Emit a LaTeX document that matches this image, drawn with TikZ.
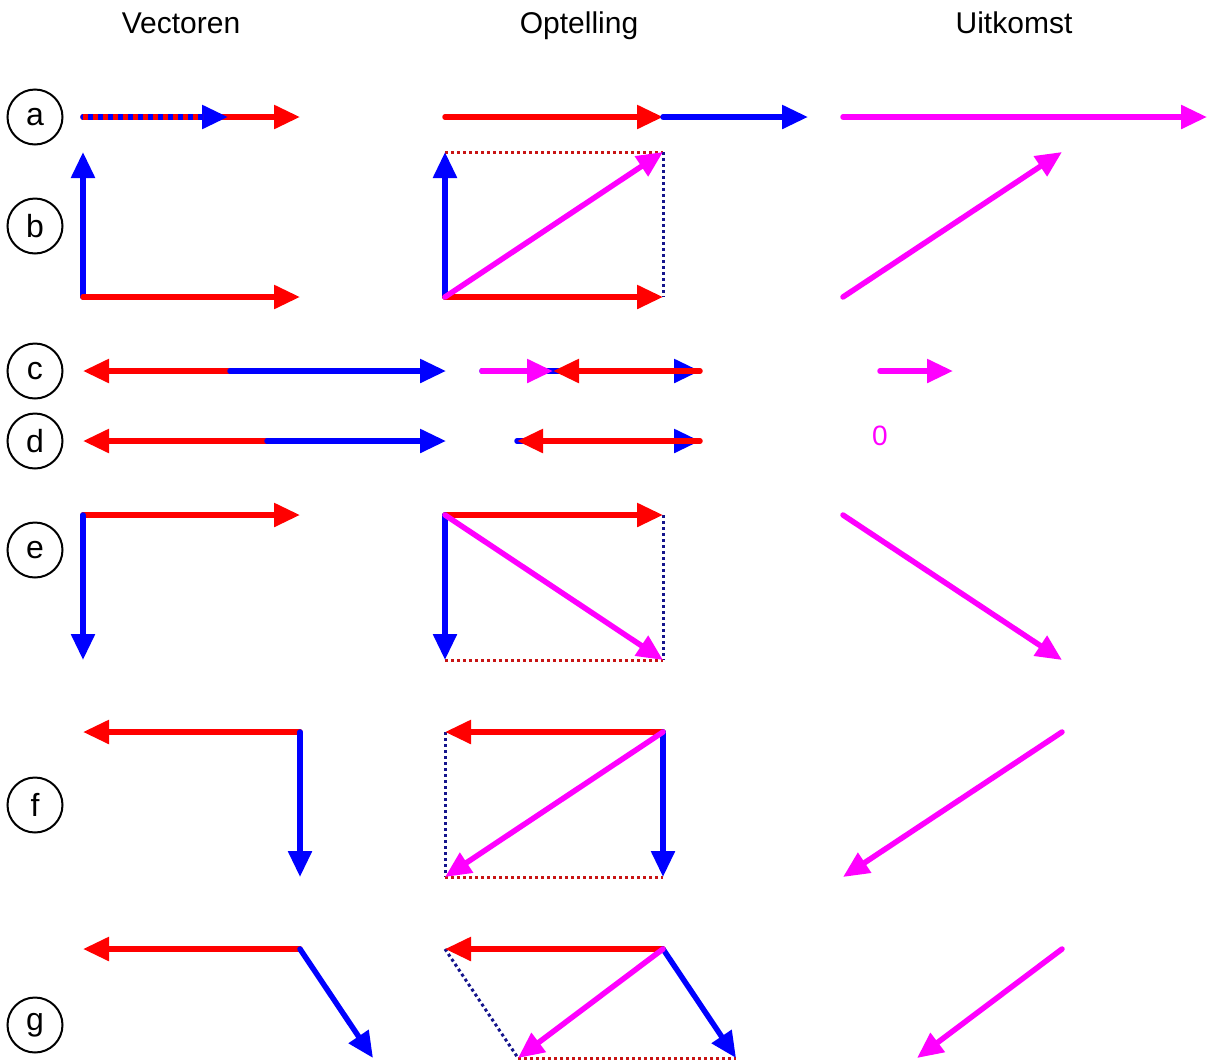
\documentclass[tikz,border=0pt]{standalone}
\usepackage{fontspec}
\setmainfont{Liberation Sans}
\usetikzlibrary{arrows.meta}
\definecolor{dotblue}{RGB}{20,20,140}
\definecolor{dotred}{RGB}{200,20,20}
\definecolor{vred}{RGB}{255,0,0}
\definecolor{vblue}{RGB}{0,0,255}
\definecolor{vmag}{RGB}{255,0,255}
\tikzset{
  vec/.style={line width=5.5pt, line cap=round, -{Triangle[length=26pt,width=23pt]}},
  rv/.style={vec, draw=vred},
  bv/.style={vec, draw=vblue},
  mv/.style={vec, draw=vmag},
  ov/.style={line width=5.5pt, line cap=butt, dash pattern=on 5pt off 5pt},
  guide/.style={line width=3pt, dash pattern=on 3pt off 3pt},
  lab/.style={draw, circle, line width=2pt, minimum size=55pt, inner sep=0pt, font=\fontsize{32}{36}\selectfont},
  head/.style={font=\fontsize{30}{36}\selectfont, anchor=base}
}
\begin{document}
\begin{tikzpicture}[x=1pt,y=-1pt]
\useasboundingbox (0,0) rectangle (1208,1061);
% headers
\node[head] (h1) at (181,33) {Vectoren};
\node[head] (h2) at (579,33) {Optelling};
\node[head] (h3) at (1014,33) {Uitkomst};
% row labels
\node[lab] (la) at (35,117) {a};
\node[lab] (lb) at (35,226) {b};
\node[lab] (lc) at (35,371) {c};
\node[lab] (ld) at (35,441) {d};
\node[lab] (le) at (35,550) {e};
\node[lab] (lf) at (35,805) {f};
\node[lab] (lg) at (35,1025) {g};

% ---------- row a ----------
\coordinate (a0) at (83,117); \coordinate (a1) at (228,117); \coordinate (a2) at (300,117);
\coordinate (a1b) at (203,117);
\draw[rv] (a0) -- (a2);
\draw[bv] (a0) -- (a1);
\draw[ov, vred] (a0) -- (a1b);
\coordinate (am0) at (445,117); \coordinate (am1) at (663,117); \coordinate (am2) at (808,117);
\draw[rv] (am0) -- (am1);
\draw[bv] (am1) -- (am2);
\coordinate (ar0) at (843,117); \coordinate (ar1) at (1207,117);
\draw[mv] (ar0) -- (ar1);

% ---------- row b ----------
\coordinate (b0) at (83,297); \coordinate (b1) at (83,152); \coordinate (b2) at (300,297);
\draw[bv] (b0) -- (b1);
\draw[rv] (b0) -- (b2);
\coordinate (bm0) at (445,297); \coordinate (bm1) at (445,152); \coordinate (bm2) at (663,297); \coordinate (bm3) at (663,152);
\draw[guide, dotred] (bm1) -- (bm3);
\draw[guide, dotblue] (bm3) -- (bm2);
\draw[bv] (bm0) -- (bm1);
\draw[rv] (bm0) -- (bm2);
\draw[mv] (bm0) -- (bm3);
\coordinate (br0) at (843,297); \coordinate (br1) at (1062,152);
\draw[mv] (br0) -- (br1);

% ---------- row c ----------
\coordinate (c0) at (230,371); \coordinate (c1) at (83,371); \coordinate (c2) at (446,371);
\draw[rv] (c0) -- (c1);
\draw[bv] (c0) -- (c2);
\coordinate (cm0) at (482,371); \coordinate (cm1) at (700,371); \coordinate (cm2) at (553,371);
\coordinate (cm3) at (527,371); \coordinate (cm4) at (579,371);
\draw[bv] (cm0) -- (cm1);
\draw[rv] (cm1) -- (cm2);
\draw[mv] (cm0) -- (cm2);
\draw[ov, vmag] (cm0) -- (cm3);
\draw[ov, vred] (cm4) -- (cm1);
\coordinate (cr0) at (880,371); \coordinate (cr1) at (953,371);
\draw[mv] (cr0) -- (cr1);

% ---------- row d ----------
\coordinate (d0) at (267,441); \coordinate (d1) at (83,441); \coordinate (d2) at (446,441);
\draw[rv] (d0) -- (d1);
\draw[bv] (d0) -- (d2);
\coordinate (dm0) at (517,441); \coordinate (dm1) at (700,441); \coordinate (dm2) at (543,441);
\draw[bv] (dm0) -- (dm1);
\draw[rv] (dm1) -- (dm0);
\draw[ov, vred] (dm2) -- (dm1);
\node[text=vmag, font=\fontsize{28}{32}\selectfont] (zero) at (880,436) {0};

% ---------- row e ----------
\coordinate (e0) at (83,515); \coordinate (e1) at (300,515); \coordinate (e2) at (83,660);
\draw[rv] (e0) -- (e1);
\draw[bv] (e0) -- (e2);
\coordinate (em0) at (445,515); \coordinate (em1) at (663,515); \coordinate (em2) at (445,660); \coordinate (em3) at (663,660);
\draw[guide, dotblue] (em1) -- (em3);
\draw[guide, dotred] (em2) -- (em3);
\draw[rv] (em0) -- (em1);
\draw[bv] (em0) -- (em2);
\draw[mv] (em0) -- (em3);
\coordinate (er0) at (843,515); \coordinate (er1) at (1062,660);
\draw[mv] (er0) -- (er1);

% ---------- row f ----------
\coordinate (f0) at (300,732); \coordinate (f1) at (83,732); \coordinate (f2) at (300,877);
\draw[rv] (f0) -- (f1);
\draw[bv] (f0) -- (f2);
\coordinate (fm0) at (663,732); \coordinate (fm1) at (445,732); \coordinate (fm2) at (663,877); \coordinate (fm3) at (445,877);
\draw[guide, dotblue] (fm1) -- (fm3);
\draw[guide, dotred] (fm3) -- (fm2);
\draw[rv] (fm0) -- (fm1);
\draw[bv] (fm0) -- (fm2);
\draw[mv] (fm0) -- (fm3);
\coordinate (fr0) at (1062,732); \coordinate (fr1) at (843,877);
\draw[mv] (fr0) -- (fr1);

% ---------- row g ----------
\coordinate (g0) at (300,949); \coordinate (g1) at (83,949); \coordinate (g2) at (373,1058);
\draw[rv] (g0) -- (g1);
\draw[bv] (g0) -- (g2);
\coordinate (gm0) at (663,949); \coordinate (gm1) at (445,949); \coordinate (gm2) at (736,1058); \coordinate (gm3) at (518,1058);
\draw[guide, dotblue] (gm1) -- (gm3);
\draw[guide, dotred] (gm3) -- (gm2);
\draw[rv] (gm0) -- (gm1);
\draw[bv] (gm0) -- (gm2);
\draw[mv] (gm0) -- (gm3);
\coordinate (gr0) at (1062,949); \coordinate (gr1) at (917,1058);
\draw[mv] (gr0) -- (gr1);
\end{tikzpicture}
\end{document}
